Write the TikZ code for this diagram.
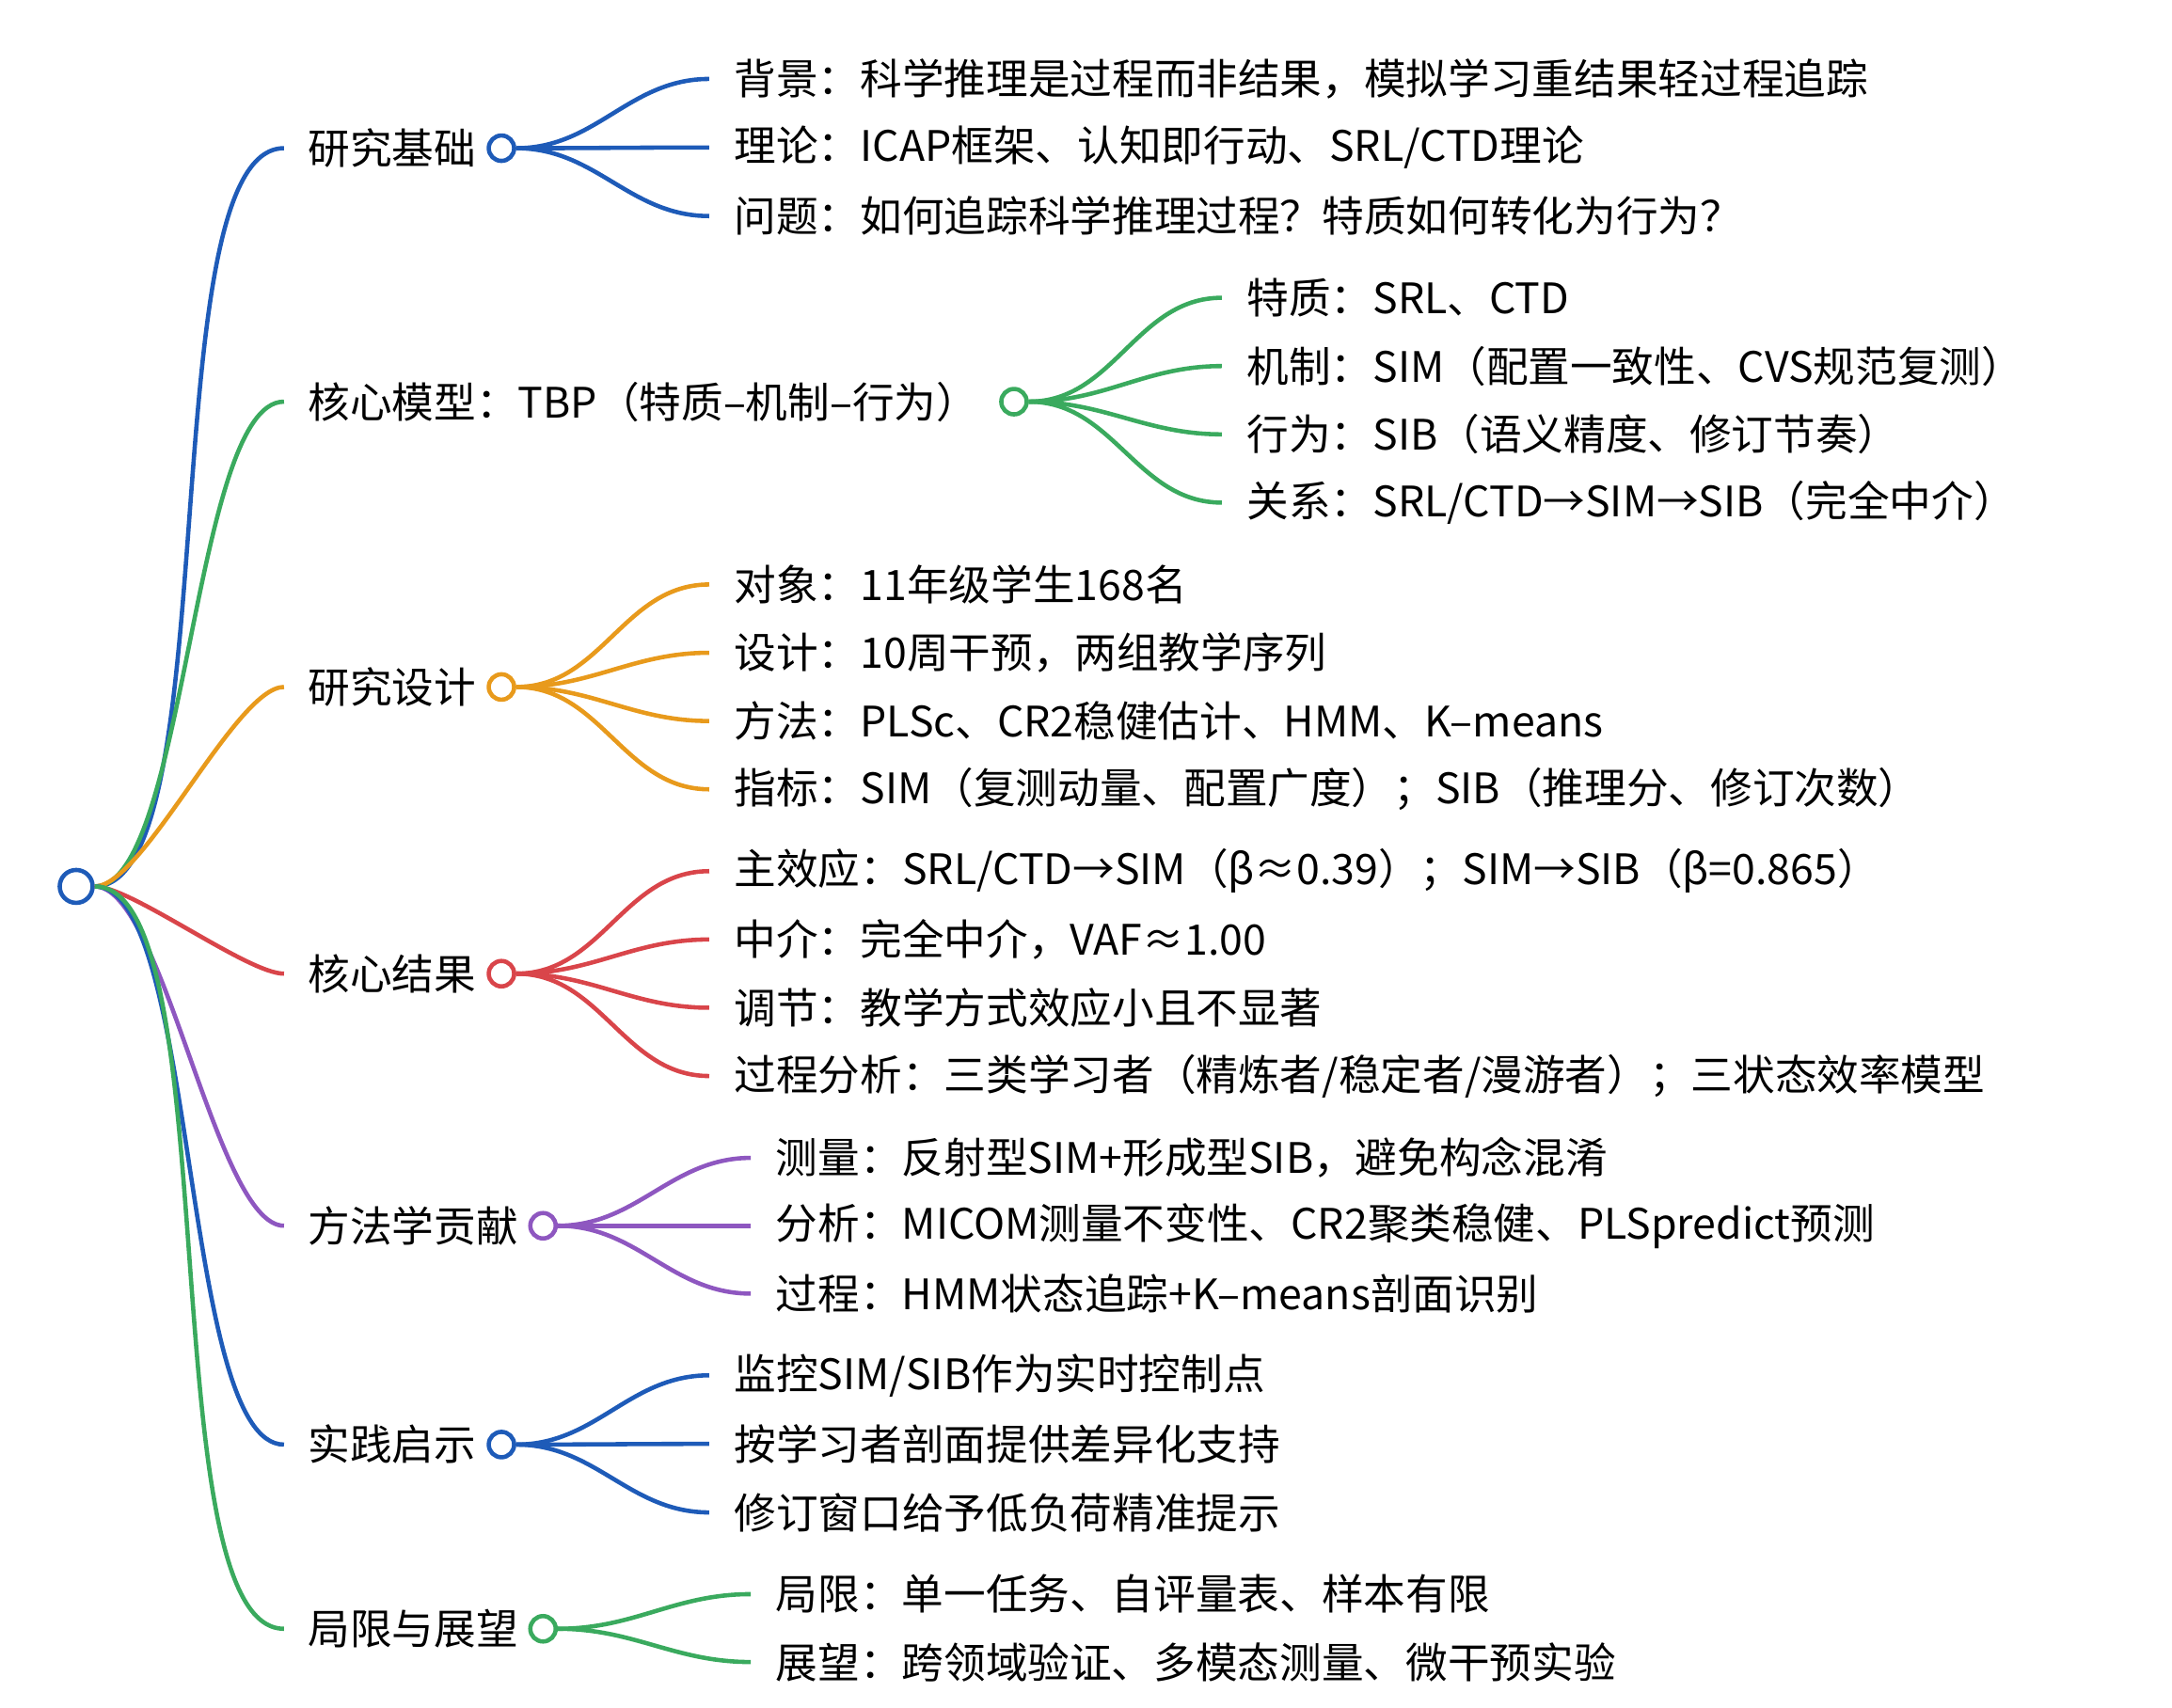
\documentclass[tikz,border=0pt]{standalone}
\usepackage{fontspec}
\setmainfont{Noto Sans CJK SC}
\definecolor{mblue}{HTML}{1E5BB8}
\definecolor{mgreen}{HTML}{3AAA5E}
\definecolor{morange}{HTML}{E89A1C}
\definecolor{mred}{HTML}{D9454A}
\definecolor{mpurple}{HTML}{8E57C0}
\begin{document}
\begin{tikzpicture}[x=0.014726cm,y=-0.014726cm,
  every node/.style={font=\fontsize{12.7}{15}\selectfont},
  dot/.style={circle,draw=#1,line width=1.3pt,fill=white,minimum size=0.27cm,inner sep=0pt},
  branch/.style={anchor=west,inner xsep=0.25cm,inner ysep=0pt},
  leaf/.style={anchor=west,inner xsep=0.26cm,inner ysep=0pt},
  link/.style={draw=#1,line width=1.3pt,out=0,in=180}]
\useasboundingbox (0,0) rectangle (1568,1233);
\node[dot=mblue,minimum size=0.35cm] (root) at (55,640) {};
% main branches
\foreach \t/\c/\y/\cx [count=\j] in {研究基础/mblue/107/362, {核心模型：TBP（特质–机制–行为）}/mgreen/290/732,
    研究设计/morange/496/362, 核心结果/mred/703/362, 方法学贡献/mpurple/885/392,
    实践启示/mblue/1043/362, 局限与展望/mgreen/1176/392}
{
  \node[branch] (b\j) at (205,\y) {\t};
  \node[dot=\c] (d\j) at (\cx,\y) {};
  \draw[link=\c,looseness=0.45] (root) to (b\j.west);
}
% leaves
\foreach \t [count=\j] in {背景：科学推理是过程而非结果，模拟学习重结果轻过程追踪, 理论：ICAP框架、认知即行动、SRL/CTD理论, 问题：如何追踪科学推理过程？特质如何转化为行为？}
{
  \node[leaf] (l1\j) at (512,{57+49.5*(\j-1)}) {\t};
  \draw[link=mblue] (d1) to (l1\j.west);
}
\foreach \t [count=\j] in {特质：SRL、CTD, 机制：SIM（配置一致性、CVS规范复测）, 行为：SIB（语义精度、修订节奏）, 关系：SRL/CTD→SIM→SIB（完全中介）}
{
  \node[leaf] (l2\j) at (882,{215+49.3*(\j-1)}) {\t};
  \draw[link=mgreen] (d2) to (l2\j.west);
}
\foreach \t [count=\j] in {对象：11年级学生168名, 设计：10周干预，两组教学序列, 方法：PLSc、CR2稳健估计、HMM、K–means, 指标：SIM（复测动量、配置广度）；SIB（推理分、修订次数）}
{
  \node[leaf] (l3\j) at (512,{422+49.3*(\j-1)}) {\t};
  \draw[link=morange] (d3) to (l3\j.west);
}
\foreach \t [count=\j] in {主效应：SRL/CTD→SIM（β≈0.39）；SIM→SIB（β=0.865）, 中介：完全中介，VAF≈1.00, 调节：教学方式效应小且不显著, 过程分析：三类学习者（精炼者/稳定者/漫游者）；三状态效率模型}
{
  \node[leaf] (l4\j) at (512,{629+49.3*(\j-1)}) {\t};
  \draw[link=mred] (d4) to (l4\j.west);
}
\foreach \t [count=\j] in {测量：反射型SIM+形成型SIB，避免构念混淆, 分析：MICOM测量不变性、CR2聚类稳健、PLSpredict预测, 过程：HMM状态追踪+K–means剖面识别}
{
  \node[leaf] (l5\j) at (542,{836+49*(\j-1)}) {\t};
  \draw[link=mpurple] (d5) to (l5\j.west);
}
\foreach \t [count=\j] in {监控SIM/SIB作为实时控制点, 按学习者剖面提供差异化支持, 修订窗口给予低负荷精准提示}
{
  \node[leaf] (l6\j) at (512,{993+49.5*(\j-1)}) {\t};
  \draw[link=mblue] (d6) to (l6\j.west);
}
\foreach \t [count=\j] in {局限：单一任务、自评量表、样本有限, 展望：跨领域验证、多模态测量、微干预实验}
{
  \node[leaf] (l7\j) at (542,{1151+49*(\j-1)}) {\t};
  \draw[link=mgreen] (d7) to (l7\j.west);
}
\end{tikzpicture}
\end{document}
